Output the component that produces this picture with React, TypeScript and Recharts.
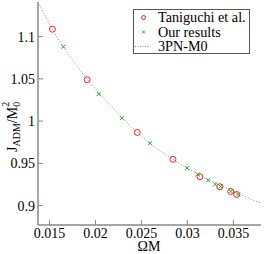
import React from "react";
import { ComposedChart, Scatter, Line, XAxis, YAxis } from "recharts";

const xTicks = [0.015, 0.02, 0.025, 0.03, 0.035];
const yTicks = [0.9, 0.95, 1, 1.05, 1.1];

// Taniguchi et al.
const tanOmega = [0.01532, 0.0191, 0.02454, 0.02842, 0.03136, 0.03352, 0.03471, 0.03536];
const tanJ = [1.1088, 1.049, 0.9865, 0.9548, 0.9342, 0.9223, 0.9167, 0.9131];

// our results
const ourOmega = [0.01651, 0.02036, 0.02287, 0.02594, 0.02995, 0.0311, 0.03226, 0.03302, 0.0336, 0.03472, 0.03551];
const ourJ = [1.0881, 1.0321, 1.0036, 0.9738, 0.9444, 0.9369, 0.9301, 0.925, 0.9226, 0.9167, 0.9131];

// 3PN-M0 curve
const pnOmega = [0.01375, 0.015, 0.016, 0.017, 0.018, 0.019, 0.02, 0.021, 0.022, 0.023, 0.024, 0.025, 0.026, 0.027, 0.028, 0.029, 0.03, 0.031, 0.032, 0.033, 0.034, 0.035, 0.036, 0.037, 0.038];
const pnJ = [1.141, 1.115, 1.096, 1.08, 1.065, 1.051, 1.038, 1.026, 1.014, 1.003, 0.992, 0.982, 0.973, 0.965, 0.958, 0.951, 0.944, 0.938, 0.932, 0.927, 0.922, 0.917, 0.912, 0.907, 0.903];

const legendItems = ["Taniguchi et al.", "Our results", "3PN-M0"];

const tanData = tanOmega.map((x, i) => ({ x, y: tanJ[i] }));
const ourData = ourOmega.map((x, i) => ({ x, y: ourJ[i] }));
const pnData = pnOmega.map((x, i) => ({ x, y: pnJ[i] }));

const AXIS = "#888888";
const RED = "#ff2020";
const GREEN = "#22aa22";
const FONT = "Liberation Serif, Times New Roman, serif";
const TL = 5;

const BottomTick = (props: any) => {
  const { x, y, payload } = props;
  return (
    <g>
      <line x1={x} y1={y} x2={x} y2={y - TL} stroke={AXIS} />
      <text x={x} y={y + 13} textAnchor="middle" fontFamily={FONT} fontSize={14} fill="#000">
        {String(payload.value)}
      </text>
    </g>
  );
};

const TopTick = (props: any) => {
  const { x, y } = props;
  return <line x1={x} y1={y} x2={x} y2={y + TL} stroke={AXIS} />;
};

const LeftTick = (props: any) => {
  const { x, y, payload } = props;
  return (
    <g>
      <line x1={x} y1={y} x2={x + TL} y2={y} stroke={AXIS} />
      <text x={x - 3} y={y + 5} textAnchor="end" fontFamily={FONT} fontSize={14} fill="#000">
        {String(payload.value)}
      </text>
    </g>
  );
};

const RightTick = (props: any) => {
  const { x, y } = props;
  return <line x1={x} y1={y} x2={x - TL} y2={y} stroke={AXIS} />;
};

const Circle = (props: any) => {
  const { cx, cy } = props;
  return <circle cx={cx} cy={cy} r={3} fill="none" stroke={RED} strokeWidth={1} />;
};

const Cross = (props: any) => {
  const { cx, cy } = props;
  const s = 2;
  return (
    <g stroke={GREEN} strokeWidth={1}>
      <line x1={cx - s} y1={cy - s} x2={cx + s} y2={cy + s} />
      <line x1={cx - s} y1={cy + s} x2={cx + s} y2={cy - s} />
    </g>
  );
};

const YLabel = () => (
  <text transform="translate(16.5,152) rotate(-90)" fontFamily={FONT} fontSize={14} fill="#000">
    J
    <tspan fontSize={10} dy={3}>ADM</tspan>
    <tspan dy={-3}>/M</tspan>
    <tspan fontSize={10} dy={3}>0</tspan>
    <tspan fontSize={10} dx={-5} dy={-11}>2</tspan>
  </text>
);

const XLabel = () => (
  <text x={149} y={251} textAnchor="middle" fontFamily={FONT} fontSize={14} fill="#000">
    ΩM
  </text>
);

const LegendBox = () => (
  <svg width={117} height={45} style={{ position: "absolute", left: 133, top: 9, display: "block" }}>
    <rect x={0.5} y={0.5} width={116} height={44} fill="#fff" stroke="#555" />
    {legendItems.map((name, i) => {
      const cy = 8.5 + i * 14.5;
      return (
        <g key={name}>
          {i === 0 && <circle cx={10.5} cy={cy} r={2} fill="none" stroke={RED} />}
          {i === 1 && (
            <g stroke={GREEN}>
              <line x1={9} y1={cy - 1.5} x2={12} y2={cy + 1.5} />
              <line x1={9} y1={cy + 1.5} x2={12} y2={cy - 1.5} />
            </g>
          )}
          {i === 2 && <line x1={2} y1={cy} x2={17} y2={cy} stroke={AXIS} strokeDasharray="1 1.5" />}
          <text x={25} y={cy + 4.5} fontFamily={FONT} fontSize={14.2} fill="#000">
            {name}
          </text>
        </g>
      );
    })}
  </svg>
);

export default function App() {
  return (
    <div style={{ position: "absolute", left: 0, top: 0, width: 264, height: 254, background: "#fff", fontFamily: FONT }}>
      <ComposedChart
        width={264}
        height={254}
        margin={{ top: 2, right: 3, bottom: 0, left: 0 }}
        style={{ fontFamily: FONT }}
      >
        <XAxis
          xAxisId="b"
          dataKey="x"
          type="number"
          domain={[0.01375, 0.038]}
          ticks={xTicks}
          allowDataOverflow
          height={29}
          stroke={AXIS}
          strokeWidth={1.5}
          tickLine={false}
          tickSize={0}
          tickMargin={0}
          tick={<BottomTick />}
          interval={0}
          label={<XLabel />}
        />
        <XAxis
          xAxisId="t"
          orientation="top"
          dataKey="x"
          type="number"
          domain={[0.01375, 0.038]}
          ticks={xTicks}
          allowDataOverflow
          height={0}
          stroke={AXIS}
          strokeWidth={1.5}
          tickLine={false}
          tickSize={0}
          tickMargin={0}
          tick={<TopTick />}
          interval={0}
        />
        <YAxis
          yAxisId="l"
          type="number"
          domain={[0.877, 1.141]}
          ticks={yTicks}
          allowDataOverflow
          width={38}
          stroke={AXIS}
          strokeWidth={1.5}
          tickLine={false}
          tickSize={0}
          tickMargin={0}
          tick={<LeftTick />}
          interval={0}
          label={<YLabel />}
        />
        <YAxis
          yAxisId="r"
          orientation="right"
          type="number"
          domain={[0.877, 1.141]}
          ticks={yTicks}
          allowDataOverflow
          width={0}
          stroke={AXIS}
          strokeWidth={1.5}
          tickLine={false}
          tickSize={0}
          tickMargin={0}
          tick={<RightTick />}
          interval={0}
        />
        <Line
          xAxisId="b"
          yAxisId="l"
          data={pnData}
          dataKey="y"
          type="monotone"
          stroke={AXIS}
          strokeDasharray="1 2"
          dot={false}
          isAnimationActive={false}
        />
        <Scatter xAxisId="b" yAxisId="l" data={tanData} dataKey="y" shape={<Circle />} isAnimationActive={false} />
        <Scatter xAxisId="b" yAxisId="l" data={ourData} dataKey="y" shape={<Cross />} isAnimationActive={false} />
      </ComposedChart>
      <LegendBox />
    </div>
  );
}
